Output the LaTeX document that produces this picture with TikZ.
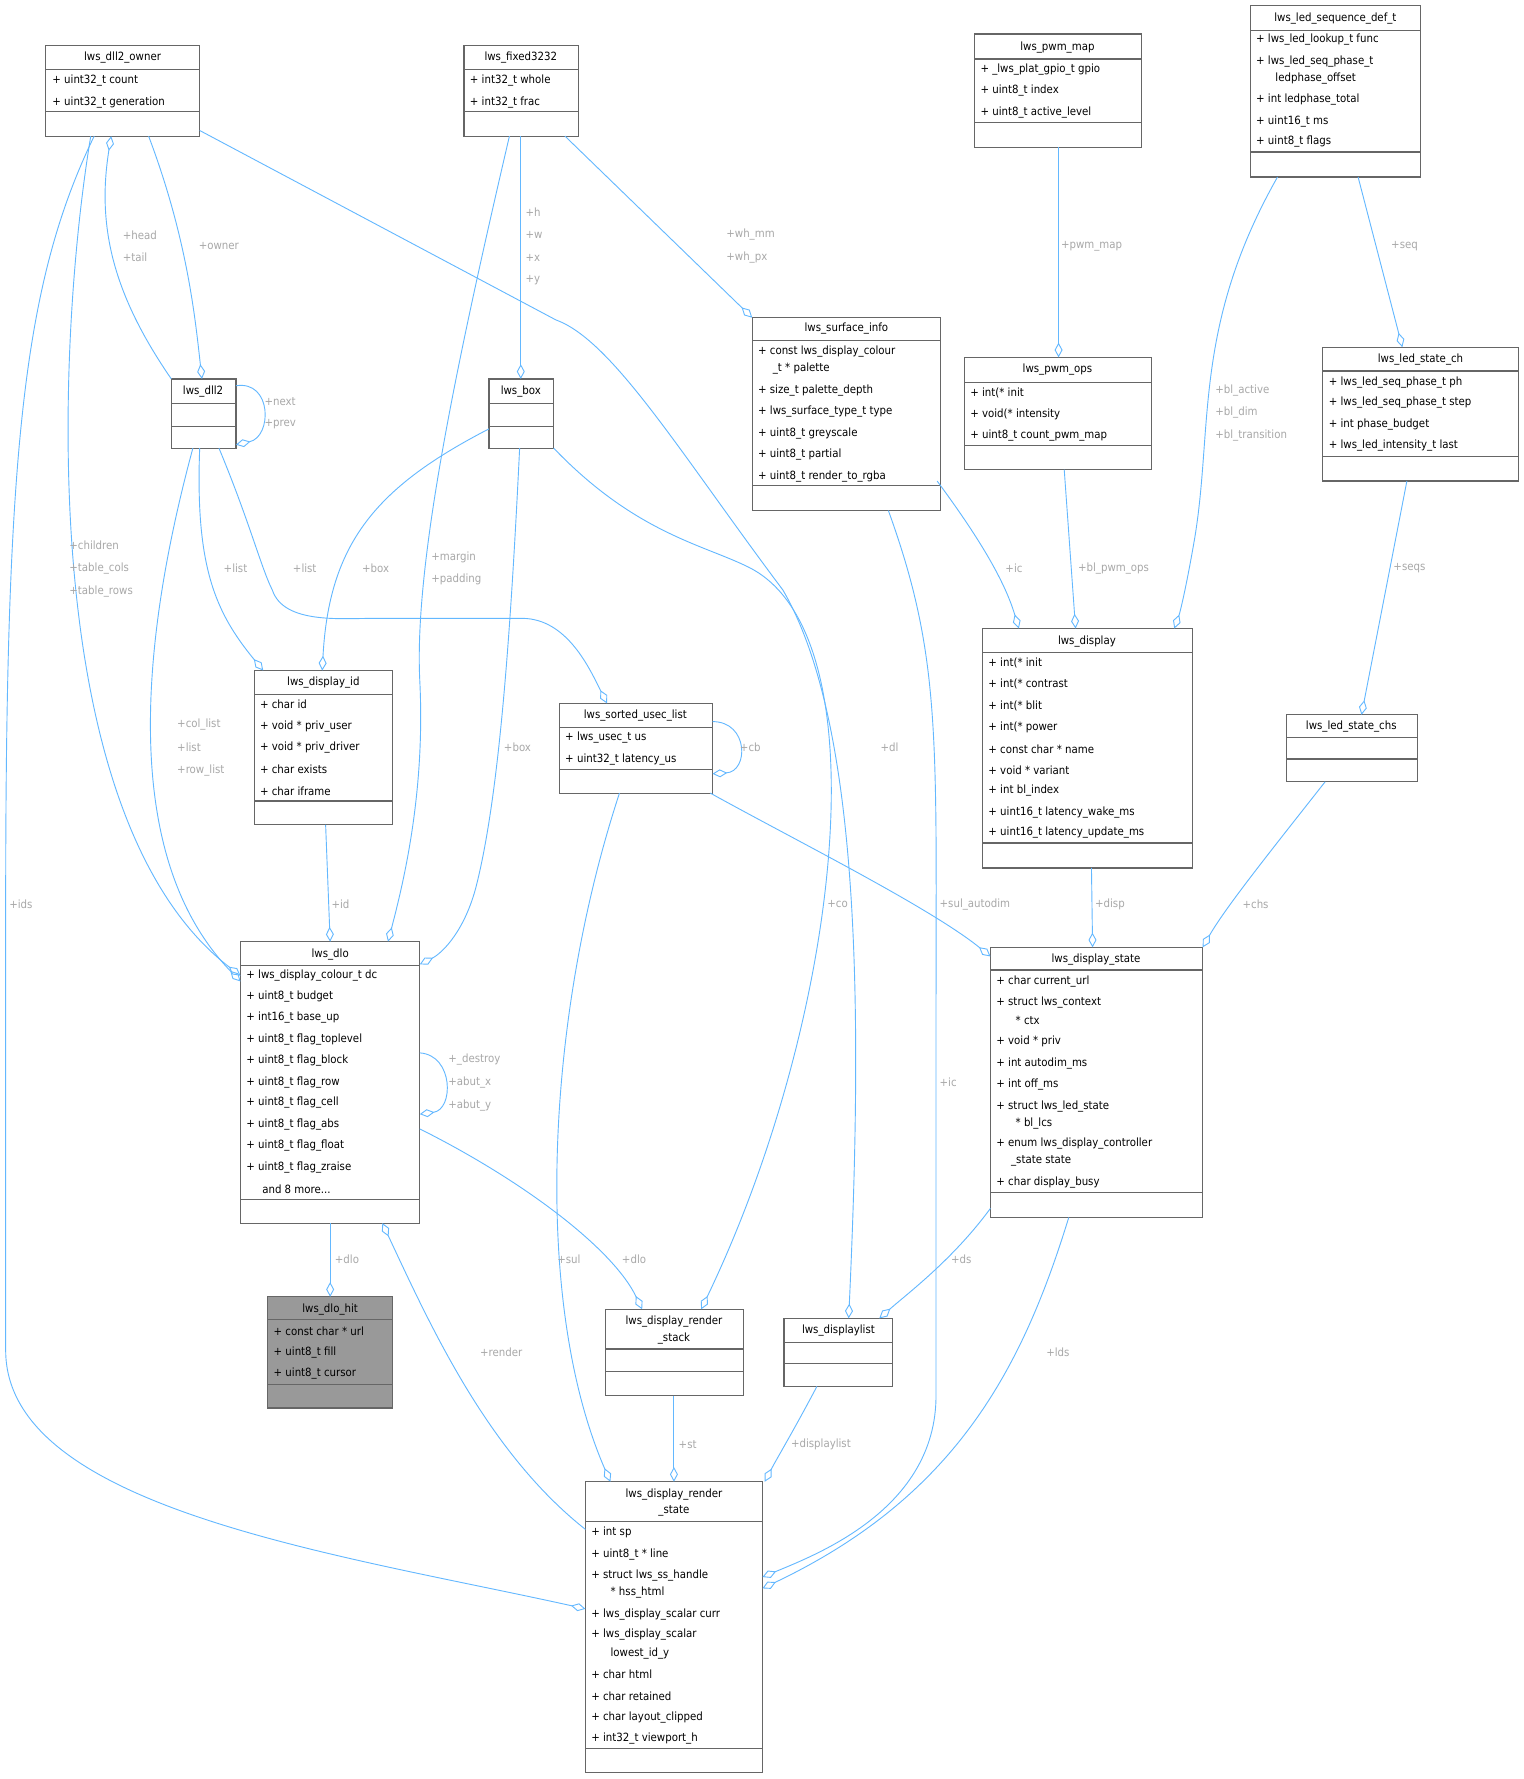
\documentclass[tikz,border=0pt]{standalone}
\usepackage{fontspec}
\setmainfont{DejaVu Sans Condensed}
\usetikzlibrary{arrows.meta}
\definecolor{edge}{HTML}{63B8FF}
\definecolor{lab}{HTML}{A8A8A8}
\definecolor{bord}{HTML}{666666}
\definecolor{hitfill}{HTML}{999999}
\tikzset{
 box/.style={draw=bord,line width=1pt,inner sep=0pt,outer sep=0pt},
 boxline/.style={draw=bord,line width=1pt},
 mem/.style={anchor=west,inner sep=0pt,font=\fontsize{10}{12}\selectfont},
 ttl/.style={anchor=center,inner sep=0pt,font=\fontsize{10}{12}\selectfont},
 lbl/.style={anchor=west,inner sep=0pt,text=lab,font=\fontsize{10}{12}\selectfont},
 ed/.style={draw=edge,line width=0.8pt,-{Diamond[open,length=13pt,width=7pt]}},
}
\newcommand\cbox[8][white]{%
 \pgfmathsetmacro\ww{#5-#3}\pgfmathsetmacro\hh{#6-#4}%
 \node[box,fill=#1,minimum width=\ww pt,minimum height=\hh pt,anchor=north west] (#2) at (#3,#4) {};
 \draw[boxline] (#3,#7) -- (#5,#7); \draw[boxline] (#3,#8) -- (#5,#8);}
\newcommand\mm[3]{\node[mem] at (#1,#2) {#3};}
\newcommand\tl[3]{\node[ttl] at (#1,#2) {#3};}
\newcommand\lb[3]{\node[lbl] at (#1,#2) {#3};}
\begin{document}
\begin{tikzpicture}[x=1pt,y=-1pt]
\useasboundingbox[fill=white] (0,0) rectangle (1343,1568);
% boxes
\cbox{owner}{40}{40}{176}{120}{61}{98}
\tl{108}{51}{lws\_dll2\_owner}\mm{46}{71}{+ uint32\_t count}\mm{46}{90}{+ uint32\_t generation}
\cbox{fixed}{409}{40}{510}{120}{61}{98}
\tl{459}{51}{lws\_fixed3232}\mm{414}{71}{+ int32\_t whole}\mm{414}{90}{+ int32\_t frac}
\cbox{pwmmap}{859}{30}{1006}{130}{52}{108}
\tl{932}{42}{lws\_pwm\_map}\mm{864}{61}{+ \_lws\_plat\_gpio\_t gpio}\mm{864}{80}{+ uint8\_t index}\mm{864}{99}{+ uint8\_t active\_level}
\cbox{seqdef}{1102}{5}{1252}{156}{27}{134}
\tl{1177}{16}{lws\_led\_sequence\_def\_t}\mm{1107}{35}{+ lws\_led\_lookup\_t func}\mm{1107}{54}{+ lws\_led\_seq\_phase\_t}\mm{1124}{69}{ledphase\_offset}\mm{1107}{88}{+ int ledphase\_total}\mm{1107}{107}{+ uint16\_t ms}\mm{1107}{125}{+ uint8\_t flags}
\cbox{dll}{151}{334}{208}{395}{356}{376}
\tl{179}{345}{lws\_dll2}
\cbox{lbox}{431}{334}{488}{395}{356}{376}
\tl{459}{345}{lws\_box}
\cbox{surf}{663}{280}{829}{450}{300}{428}
\tl{746}{290}{lws\_surface\_info}\mm{668}{310}{+ const lws\_display\_colour}\mm{681}{325}{\_t * palette}\mm{668}{344}{+ size\_t palette\_depth}\mm{668}{363}{+ lws\_surface\_type\_t type}\mm{668}{382}{+ uint8\_t greyscale}\mm{668}{401}{+ uint8\_t partial}\mm{668}{420}{+ uint8\_t render\_to\_rgba}
\cbox{pwmops}{850}{315}{1015}{414}{337}{393}
\tl{932}{326}{lws\_pwm\_ops}\mm{855}{346}{+ int(* init}\mm{855}{365}{+ void(* intensity}\mm{855}{384}{+ uint8\_t count\_pwm\_map}
\cbox{statech}{1166}{306}{1338}{424}{327}{402}
\tl{1252}{317}{lws\_led\_state\_ch}\mm{1171}{337}{+ lws\_led\_seq\_phase\_t ph}\mm{1171}{355}{+ lws\_led\_seq\_phase\_t step}\mm{1171}{374}{+ int phase\_budget}\mm{1171}{393}{+ lws\_led\_intensity\_t last}
\cbox{did}{224}{591}{346}{727}{612}{706}
\tl{285}{602}{lws\_display\_id}\mm{229}{621}{+ char id}\mm{229}{640}{+ void * priv\_user}\mm{229}{659}{+ void * priv\_driver}\mm{229}{678}{+ char exists}\mm{229}{697}{+ char iframe}
\cbox{sul}{493}{620}{628}{699}{641}{678}
\tl{560}{631}{lws\_sorted\_usec\_list}\mm{498}{650}{+ lws\_usec\_t us}\mm{498}{669}{+ uint32\_t latency\_us}
\cbox{disp}{866}{554}{1051}{765}{575}{743}
\tl{958}{565}{lws\_display}\mm{871}{584}{+ int(* init}\mm{871}{603}{+ int(* contrast}\mm{871}{622}{+ int(* blit}\mm{871}{641}{+ int(* power}\mm{871}{660}{+ const char * name}\mm{871}{679}{+ void * variant}\mm{871}{697}{+ int bl\_index}\mm{871}{716}{+ uint16\_t latency\_wake\_ms}\mm{871}{734}{+ uint16\_t latency\_update\_ms}
\cbox{chs}{1134}{630}{1249}{689}{650}{669}
\tl{1191}{640}{lws\_led\_state\_chs}
\cbox{dlo}{212}{830}{370}{1078}{851}{1057}
\tl{291}{841}{lws\_dlo}
\mm{217}{860}{+ lws\_display\_colour\_t dc}\mm{217}{878}{+ uint8\_t budget}\mm{217}{897}{+ int16\_t base\_up}\mm{217}{916}{+ uint8\_t flag\_toplevel}\mm{217}{935}{+ uint8\_t flag\_block}\mm{217}{954}{+ uint8\_t flag\_row}\mm{217}{972}{+ uint8\_t flag\_cell}\mm{217}{991}{+ uint8\_t flag\_abs}\mm{217}{1010}{+ uint8\_t flag\_float}\mm{217}{1029}{+ uint8\_t flag\_zraise}\mm{231}{1048}{and 8 more...}
\cbox{dstate}{873}{835}{1060}{1073}{855}{1051}
\tl{966}{846}{lws\_display\_state}\mm{878}{865}{+ char current\_url}\mm{878}{884}{+ struct lws\_context}\mm{895}{899}{* ctx}\mm{878}{918}{+ void * priv}\mm{878}{937}{+ int autodim\_ms}\mm{878}{956}{+ int off\_ms}\mm{878}{975}{+ struct lws\_led\_state}\mm{895}{990}{* bl\_lcs}\mm{878}{1008}{+ enum lws\_display\_controller}\mm{891}{1023}{\_state state}\mm{878}{1042}{+ char display\_busy}
\cbox[hitfill]{hit}{236}{1143}{346}{1241}{1163}{1220}
\tl{291}{1154}{lws\_dlo\_hit}\mm{241}{1173}{+ const char * url}\mm{241}{1192}{+ uint8\_t fill}\mm{241}{1211}{+ uint8\_t cursor}
\cbox{rstack}{534}{1154}{655}{1230}{1189}{1209}
\tl{594}{1165}{lws\_display\_render}\tl{594}{1180}{\_stack}
\cbox{dlist}{691}{1162}{787}{1222}{1183}{1202}
\tl{739}{1173}{lws\_displaylist}
\cbox{rstate}{516}{1306}{672}{1562}{1341}{1541}
\tl{594}{1317}{lws\_display\_render}\tl{594}{1332}{\_state}
\mm{521}{1351}{+ int sp}\mm{521}{1370}{+ uint8\_t * line}\mm{521}{1389}{+ struct lws\_ss\_handle}\mm{538}{1404}{* hss\_html}\mm{521}{1423}{+ lws\_display\_scalar curr}\mm{521}{1441}{+ lws\_display\_scalar}\mm{538}{1457}{lowest\_id\_y}\mm{521}{1476}{+ char html}\mm{521}{1495}{+ char retained}\mm{521}{1514}{+ char layout\_clipped}\mm{521}{1532}{+ int32\_t viewport\_h}
% edges
\draw[ed] (131,120) .. controls (165,210) and (172,280) .. (178,334);
\lb{175}{217}{+owner}
\draw[ed] (151,334) .. controls (100,260) and (85,200) .. (98,120);
\lb{108}{207}{+head}\lb{108}{227}{+tail}
\draw[ed] (208,340) .. controls (240,335) and (240,385) .. (208,392);
\lb{233}{354}{+next}\lb{233}{374}{+prev}
\draw[ed] (176,395) .. controls (172,500) and (190,540) .. (232,591);
\lb{197}{501}{+list}
\draw[ed] (193,395) .. controls (220,460) and (230,500) .. (240,520) .. controls (250,550) and (300,545) .. (330,545) -- (460,545) .. controls (500,545) and (520,590) .. (535,620);
\lb{258}{501}{+list}
\draw[ed] (170,395) .. controls (120,580) and (110,760) .. (212,865);
\lb{156}{639}{+col\_list}\lb{156}{659}{+list}\lb{156}{679}{+row\_list}
\draw[ed] (80,120) .. controls (50,300) and (30,720) .. (212,860);
\lb{61}{481}{+children}\lb{61}{501}{+table\_cols}\lb{61}{521}{+table\_rows}
\draw[ed] (83,120) .. controls (20,250) and (5,400) .. (5,800) -- (5,1190) .. controls (5,1330) and (300,1370) .. (516,1418);
\lb{8}{797}{+ids}
\draw[ed] (176,115) -- (490,282) .. controls (540,300) and (600,400) .. (690,520) .. controls (760,640) and (760,900) .. (748,1162);
\lb{776}{659}{+dl}
\draw[ed] (449,120) .. controls (400,330) and (365,500) .. (370,600) .. controls (375,700) and (355,780) .. (342,830);
\lb{380}{491}{+margin}\lb{380}{511}{+padding}
\draw[ed] (459,120) -- (459,334);
\lb{463}{187}{+h}\lb{463}{207}{+w}\lb{463}{227}{+x}\lb{463}{247}{+y}
\draw[ed] (498,120) -- (663,280);
\lb{640}{207}{+wh\_mm}\lb{640}{227}{+wh\_px}
\draw[ed] (431,378) .. controls (330,430) and (290,480) .. (284,591);
\lb{319}{501}{+box}
\draw[ed] (458,395) .. controls (450,560) and (440,700) .. (420,780) .. controls (410,820) and (390,840) .. (370,850);
\lb{444}{659}{+box}
\draw[ed] (488,395) .. controls (560,470) and (620,480) .. (660,500) .. controls (780,560) and (740,900) .. (618,1154);
\lb{729}{797}{+co}
\draw[ed] (933,130) -- (933,315);
\lb{935}{217}{+pwm\_map}
\draw[ed] (1126,156) .. controls (1050,290) and (1070,380) .. (1052,480) .. controls (1045,520) and (1040,540) .. (1035,554);
\lb{1071}{344}{+bl\_active}\lb{1071}{364}{+bl\_dim}\lb{1071}{384}{+bl\_transition}
\draw[ed] (1197,156) -- (1236,306);
\lb{1226}{217}{+seq}
\draw[ed] (826,424) .. controls (860,470) and (885,510) .. (898,554);
\lb{886}{501}{+ic}
\draw[ed] (938,414) -- (948,554);
\lb{950}{501}{+bl\_pwm\_ops}
\draw[ed] (1240,424) -- (1200,630);
\lb{1228}{501}{+seqs}
\draw[ed] (287,727) -- (291,830);
\lb{292}{797}{+id}
\draw[ed] (628,636) .. controls (660,636) and (660,680) .. (628,682);
\lb{652}{659}{+cb}
\draw[ed] (626,699) .. controls (700,740) and (820,800) .. (873,843);
\lb{828}{797}{+sul\_autodim}
\draw[ed] (546,699) .. controls (480,900) and (470,1150) .. (538,1306);
\lb{491}{1110}{+sul}
\draw[ed] (962,765) -- (963,835);
\lb{965}{797}{+disp}
\draw[ed] (1168,689) .. controls (1120,750) and (1080,800) .. (1060,835);
\lb{1095}{797}{+chs}
\draw[ed] (370,928) .. controls (400,930) and (400,978) .. (370,982);
\lb{395}{934}{+\_destroy}\lb{395}{954}{+abut\_x}\lb{395}{974}{+abut\_y}
\draw[ed] (291,1078) -- (291,1143);
\lb{295}{1110}{+dlo}
\draw[ed] (370,995) .. controls (460,1040) and (540,1100) .. (566,1154);
\lb{548}{1110}{+dlo}
\draw[ed] (516,1348) .. controls (430,1280) and (380,1170) .. (337,1078);
\lb{423}{1192}{+render}
\draw[ed] (783,450) .. controls (830,580) and (825,650) .. (825,900) -- (825,1230) .. controls (825,1330) and (720,1370) .. (672,1390);
\lb{828}{954}{+ic}
\draw[ed] (942,1073) .. controls (900,1210) and (840,1320) .. (672,1400);
\lb{922}{1192}{+lds}
\draw[ed] (873,1065) .. controls (840,1110) and (800,1140) .. (775,1162);
\lb{838}{1110}{+ds}
\draw[ed] (594,1230) -- (594,1306);
\lb{598}{1273}{+st}
\draw[ed] (720,1222) .. controls (700,1260) and (685,1285) .. (674,1306);
\lb{697}{1273}{+displaylist}
\end{tikzpicture}
\end{document}
